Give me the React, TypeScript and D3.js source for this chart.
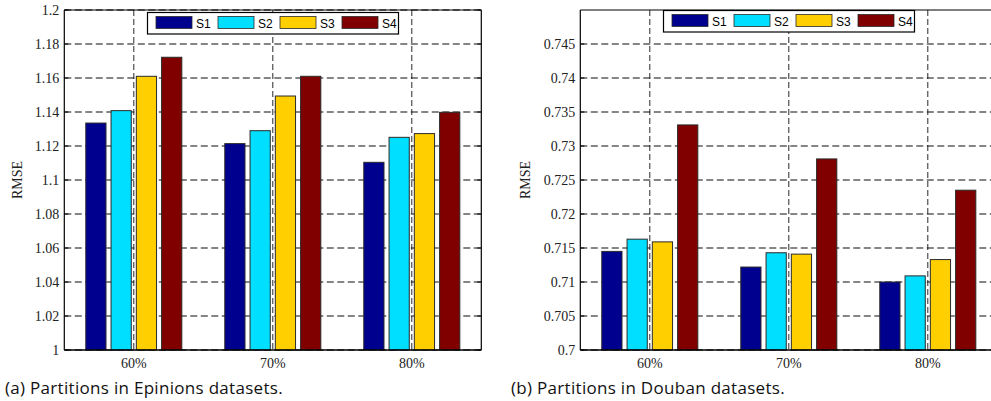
import React from 'react'
import * as d3 from 'd3'

// chart values
const categories = ['60%', '70%', '80%']
const seriesNames = ['S1', 'S2', 'S3', 'S4']
const seriesColors = ['#00008f', '#00dfff', '#ffcf00', '#800000']

const epinionsS1 = [1.1335, 1.1214, 1.1104]
const epinionsS2 = [1.1408, 1.129, 1.1251]
const epinionsS3 = [1.161, 1.1494, 1.1273]
const epinionsS4 = [1.1722, 1.161, 1.1398]

const doubanS1 = [0.7145, 0.7122, 0.71]
const doubanS2 = [0.7163, 0.7143, 0.7109]
const doubanS3 = [0.7159, 0.7141, 0.7133]
const doubanS4 = [0.7331, 0.7281, 0.7235]

const epinionsTicks = [1, 1.02, 1.04, 1.06, 1.08, 1.1, 1.12, 1.14, 1.16, 1.18, 1.2]
const epinionsTickLabels = ['1', '1.02', '1.04', '1.06', '1.08', '1.1', '1.12', '1.14', '1.16', '1.18', '1.2']
const doubanTicks = [0.7, 0.705, 0.71, 0.715, 0.72, 0.725, 0.73, 0.735, 0.74, 0.745]
const doubanTickLabels = ['0.7', '0.705', '0.71', '0.715', '0.72', '0.725', '0.73', '0.735', '0.74', '0.745']

interface PanelProps {
    left: number
    series: number[][]
    domain: [number, number]
    ticks: number[]
    tickLabels: string[]
    caption: string
    captionX: number
    labelX: number
    legendX: number
    legendY: number
}

const top = 10
const bottom = 350
const plotW = 417

const Panel: React.FC<PanelProps> = ({ left, series, domain, ticks, tickLabels, caption, captionX, labelX, legendX, legendY }) => {
    const y = d3.scaleLinear().domain(domain).range([bottom, top])
    const x = d3.scaleBand<string>().domain(categories).range([left, left + plotW]).padding(0)
    // MATLAB grouped bars: group width 4/5.5 of the slot
    const groupW = x.bandwidth() * (4 / 5.5)
    const inner = d3
        .scaleBand<string>()
        .domain(seriesNames)
        .range([-groupW / 2, groupW / 2])
        .paddingInner(0.2)
        .paddingOuter(0.1)
    const right = left + plotW

    return (
        <g>
            {/* horizontal grid */}
            {ticks.map((t) => (
                <line key={'h' + t} x1={left} x2={right} y1={y(t)} y2={y(t)} stroke="#5e5e5e" strokeWidth={1.4} strokeDasharray="7,3.5" />
            ))}
            {/* vertical grid */}
            {categories.map((c) => (
                <line key={'v' + c} x1={x(c)! + x.bandwidth() / 2} x2={x(c)! + x.bandwidth() / 2} y1={top} y2={bottom} stroke="#111" strokeWidth={0.9} strokeDasharray="6,3" />
            ))}
            {/* bars */}
            {categories.map((c, ci) =>
                seriesNames.map((s, si) => {
                    const v = series[si][ci]
                    const bx = x(c)! + x.bandwidth() / 2 + inner(s)!
                    return (
                        <rect key={c + s} x={bx} y={y(v)} width={inner.bandwidth()} height={bottom - y(v)} fill={seriesColors[si]} stroke="#2a2a2a" strokeWidth={1} />
                    )
                })
            )}
            {/* axes box */}
            <line x1={left} x2={right} y1={top} y2={top} stroke="#000" strokeWidth={1.2} />
            <line x1={left} x2={right} y1={bottom} y2={bottom} stroke="#000" strokeWidth={1.6} />
            <line x1={left} x2={left} y1={top} y2={bottom} stroke="#000" strokeWidth={1.2} />
            <line x1={right} x2={right} y1={top} y2={bottom} stroke="#000" strokeWidth={1.2} />
            {ticks.map((t) => (
                <g key={'t' + t}>
                    <line x1={left} x2={left + 4} y1={y(t)} y2={y(t)} stroke="#000" />
                    <line x1={right - 4} x2={right} y1={y(t)} y2={y(t)} stroke="#000" />
                </g>
            ))}
            {/* tick labels */}
            {ticks.map((t, i) => (
                <text key={'l' + t} x={left - 5} y={y(t)} dy="0.35em" textAnchor="end" fontFamily="Liberation Serif" fontSize={14} fill="#222">
                    {tickLabels[i]}
                </text>
            ))}
            {categories.map((c) => (
                <text key={'c' + c} x={x(c)! + x.bandwidth() / 2} y={368} textAnchor="middle" fontFamily="Liberation Serif" fontSize={14} fill="#222">
                    {c}
                </text>
            ))}
            <text transform={`translate(${labelX},${(top + bottom) / 2}) rotate(-90)`} textAnchor="middle" fontFamily="Liberation Serif" fontSize={14} fill="#222">
                RMSE
            </text>
            {/* legend */}
            <rect x={legendX} y={legendY} width={251} height={21.5} fill="#fff" stroke="#000" strokeWidth={1.2} />
            {seriesNames.map((s, i) => (
                <g key={'lg' + s} transform={`translate(${legendX + 8.5 + i * 62},${legendY})`}>
                    <rect x={0} y={4} width={36} height={12} fill={seriesColors[i]} stroke="#2a2a2a" strokeWidth={0.8} />
                    <text x={40} y={15} fontFamily="Liberation Sans" fontSize={12} fill="#000">
                        {s}
                    </text>
                </g>
            ))}
            <text x={captionX} y={394} fontFamily="Open Sans" fontSize={17} letterSpacing={0.3} fill="#111">
                {caption}
            </text>
        </g>
    )
}

export default function App() {
    return (
        <svg width={991} height={401} style={{ position: 'absolute', left: 0, top: 0, background: '#fff' }}>
            <rect width={991} height={401} fill="#fff" />
            <Panel
                left={64.3}
                series={[epinionsS1, epinionsS2, epinionsS3, epinionsS4]}
                domain={[1, 1.2]}
                ticks={epinionsTicks}
                tickLabels={epinionsTickLabels}
                caption="(a) Partitions in Epinions datasets."
                captionX={5}
                labelX={22}
                legendX={147.5}
                legendY={12.5}
            />
            <Panel
                left={580.3}
                series={[doubanS1, doubanS2, doubanS3, doubanS4]}
                domain={[0.7, 0.75]}
                ticks={doubanTicks}
                tickLabels={doubanTickLabels}
                caption="(b) Partitions in Douban datasets."
                captionX={511}
                labelX={530}
                legendX={663.5}
                legendY={10.5}
            />
        </svg>
    )
}
